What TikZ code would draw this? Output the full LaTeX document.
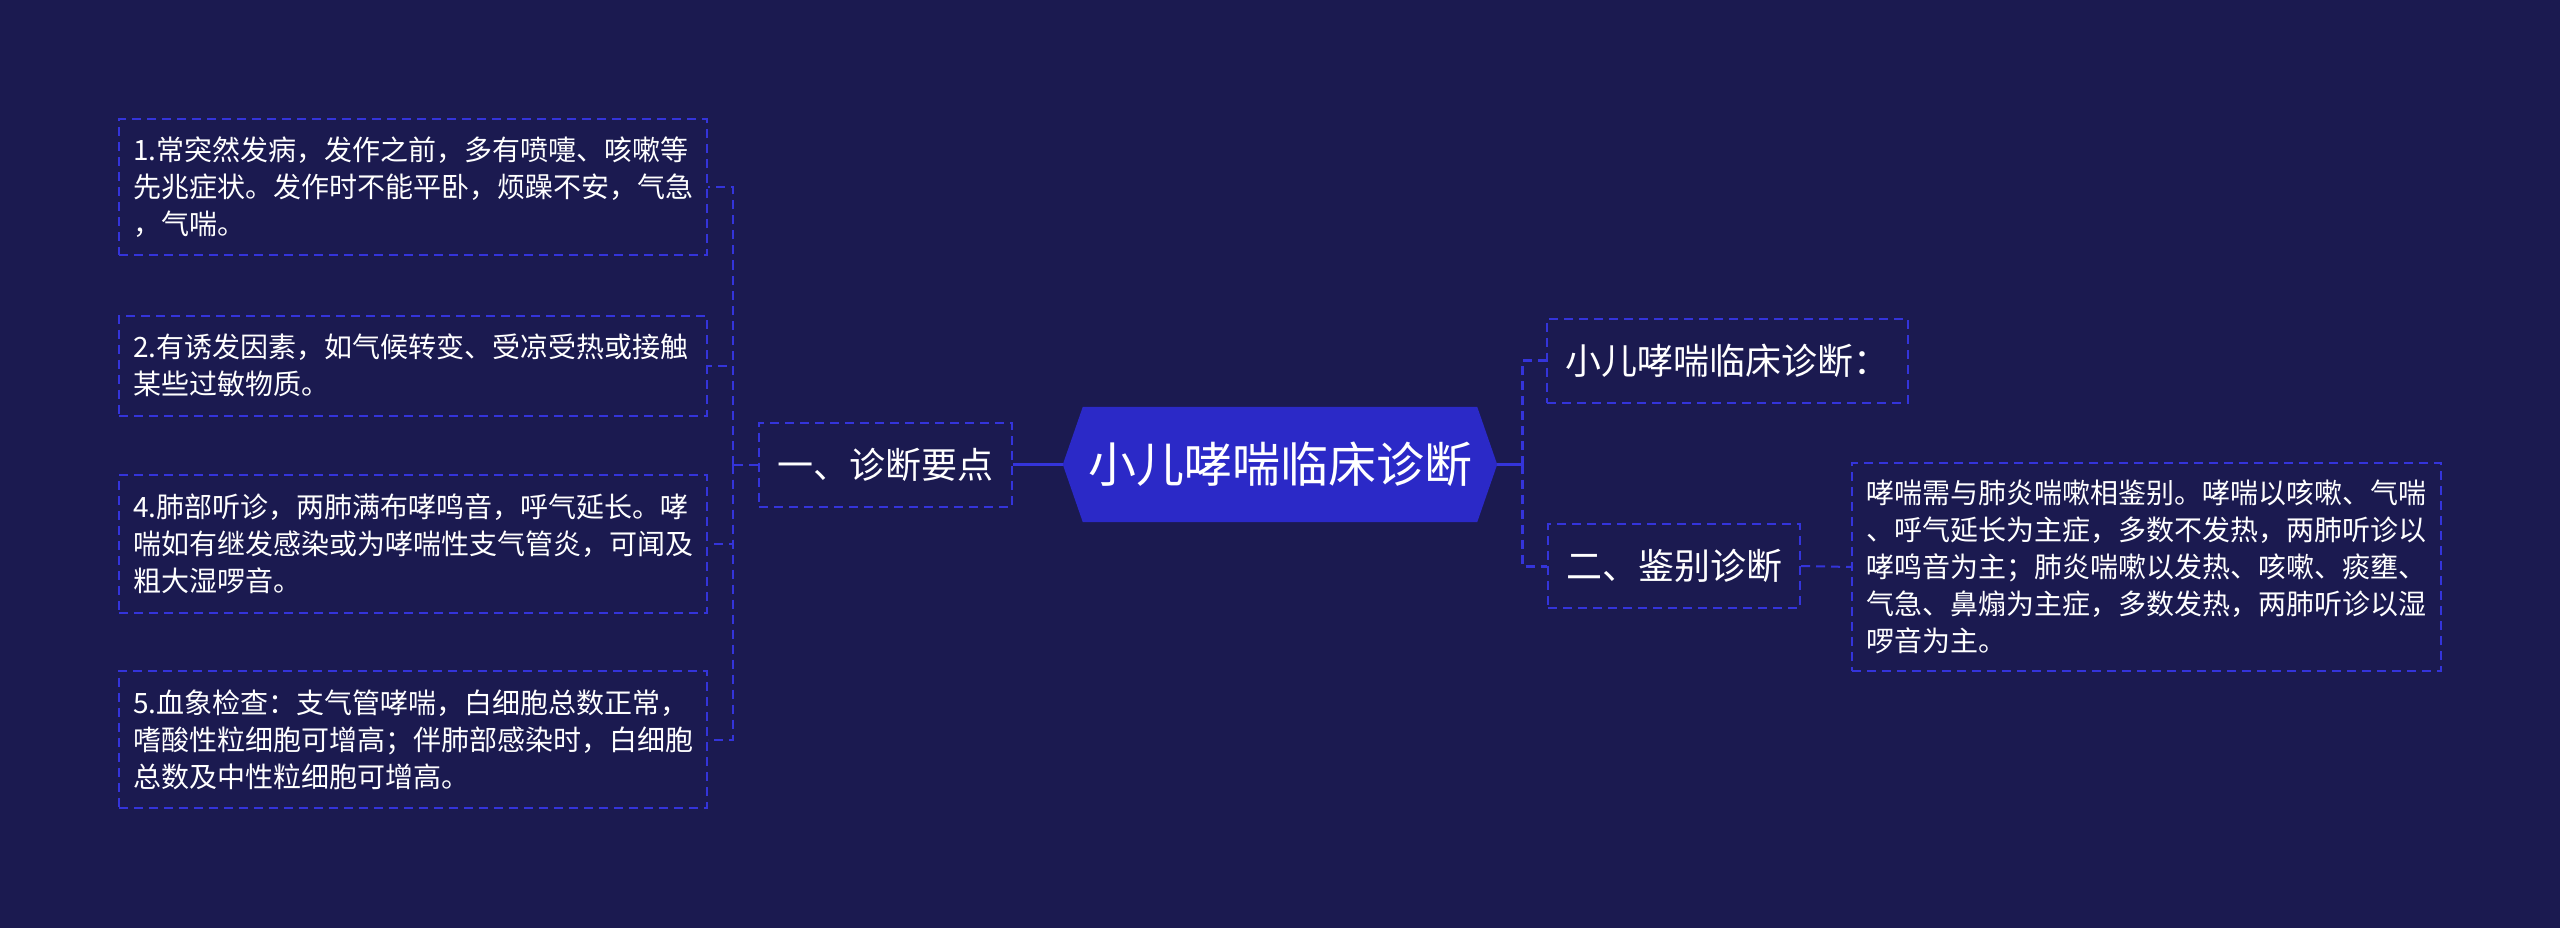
\documentclass[tikz,border=0pt]{standalone}
\usepackage{fontspec}
\setmainfont{Noto Sans CJK SC}
\usetikzlibrary{backgrounds}
\definecolor{bgc}{RGB}{27,26,80}
\definecolor{hexc}{RGB}{43,41,199}
\definecolor{linec}{RGB}{52,52,218}
\tikzset{
  dashbox/.style={draw=linec, line width=2pt, dash pattern=on 9pt off 6pt, text=white},
  leaf/.style={dashbox, align=left, inner xsep=14pt, inner ysep=0pt,
    font=\fontsize{28}{37}\selectfont, text width=560pt, minimum width=588pt},
  mid/.style={dashbox, inner sep=0pt, font=\fontsize{36}{44}\selectfont, minimum height=84pt},
  centernode/.style={inner sep=0pt, minimum width=434pt, minimum height=115pt, text=white,
    font=\fontsize{48}{56}\selectfont},
  solidconn/.style={draw=linec, line width=3pt},
  dashconn/.style={draw=linec, line width=2pt, dash pattern=on 9pt off 6pt},
  trunkconn/.style={draw=linec, line width=3pt, dash pattern=on 9pt off 6pt},
}
\begin{document}
\begin{tikzpicture}[x=1pt, y=-1pt]
\begin{scope}[on background layer]
  \fill[bgc] (0,0) rectangle (2560,928);
\end{scope}
\useasboundingbox (0,0) rectangle (2560,928);

% centre
\node[centernode] (c) at (1280,464.5) {小儿哮喘临床诊断};
\begin{scope}[on background layer]
  \fill[hexc] ([xshift=20pt]c.north west) -- ([xshift=-20pt]c.north east) -- (c.east)
    -- ([xshift=-20pt]c.south east) -- ([xshift=20pt]c.south west) -- (c.west) -- cycle;
\end{scope}

% left branch
\node[mid, minimum width=253pt] (l) at (885.5,464.5) {一、诊断要点};
\node[leaf, minimum height=136pt] (b1) at (413,187.5) {1.常突然发病，发作之前，多有喷嚏、咳嗽等\\先兆症状。发作时不能平卧，烦躁不安，气急\\，气喘。};
\node[leaf, minimum height=100pt] (b2) at (413,365.5) {2.有诱发因素，如气候转变、受凉受热或接触\\某些过敏物质。};
\node[leaf, minimum height=138pt] (b4) at (413,544) {4.肺部听诊，两肺满布哮鸣音，呼气延长。哮\\喘如有继发感染或为哮喘性支气管炎，可闻及\\粗大湿啰音。};
\node[leaf, minimum height=137pt] (b5) at (413,739.5) {5.血象检查：支气管哮喘，白细胞总数正常，\\嗜酸性粒细胞可增高；伴肺部感染时，白细胞\\总数及中性粒细胞可增高。};

% right branch
\node[mid, minimum width=361pt] (r1) at (1727.5,360.5) {小儿哮喘临床诊断：};
\node[mid, minimum width=252pt] (r2) at (1674,566) {二、鉴别诊断};
\node[leaf, text width=561pt, minimum width=589pt, minimum height=208pt] (r3) at (2146.5,567) {哮喘需与肺炎喘嗽相鉴别。哮喘以咳嗽、气喘\\、呼气延长为主症，多数不发热，两肺听诊以\\哮鸣音为主；肺炎喘嗽以发热、咳嗽、痰壅、\\气急、鼻煽为主症，多数发热，两肺听诊以湿\\啰音为主。};

% connectors
\coordinate (tl) at (733,464.5);
\coordinate (tr) at (1522,464.5);
\draw[solidconn] (c.west) -- (l.east);
\draw[dashconn] (l.west) -- (tl);
\draw[dashconn] (tl) |- (b1.east);
\draw[dashconn] (tl) |- (b2.east);
\draw[dashconn] (tl) |- (b4.east);
\draw[dashconn] (tl) |- (b5.east);
\draw[solidconn] (c.east) -- (tr);
\draw[trunkconn] (tr) |- (r1.west);
\draw[trunkconn] (tr) |- (r2.west);
\draw[dashconn] (r2.east) -- (r3.west);
\end{tikzpicture}
\end{document}
